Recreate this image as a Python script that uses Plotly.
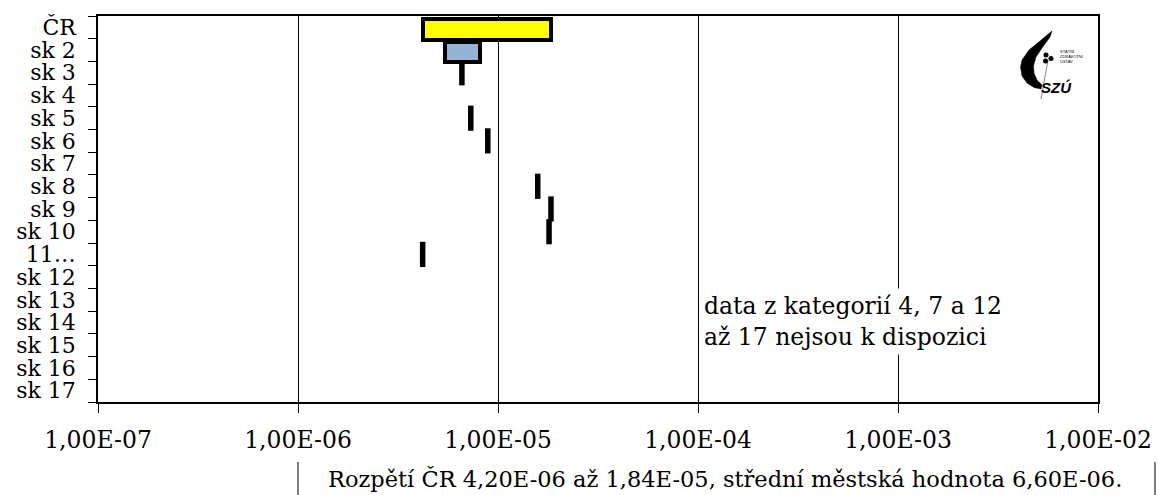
import plotly.graph_objects as go

# ---- data ----
categories = ["ČR", "sk 2", "sk 3", "sk 4", "sk 5", "sk 6", "sk 7", "sk 8", "sk 9",
              "sk 10", "11…", "sk 12", "sk 13", "sk 14", "sk 15", "sk 16", "sk 17"]
range_cats = ["ČR", "sk 2"]
range_min = [4.20e-6, 5.42e-6]
range_max = [1.84e-5, 8.15e-6]
range_colors = ["#FFFF00", "#95B3D7"]
single_cats = ["sk 3", "sk 5", "sk 6", "sk 8", "sk 9", "sk 10", "11…"]
single_vals = [6.60e-6, 7.31e-6, 8.89e-6, 1.58e-5, 1.84e-5, 1.80e-5, 4.20e-6]
x_tickvals = [1e-7, 1e-6, 1e-5, 1e-4, 1e-3, 1e-2]
x_ticktext = ["1,00E-07", "1,00E-06", "1,00E-05", "1,00E-04", "1,00E-03", "1,00E-02"]
note_text = "data z kategorií 4, 7 a 12<br>až 17 nejsou k dispozici"
footer_text = "Rozpětí ČR 4,20E-06 až 1,84E-05, střední městská hodnota 6,60E-06."

FONT = "DejaVu Serif, serif"
W, H = 1158, 495
L, R, T, B = 98, 60, 16, 93
PW, PH = W - L - R, H - T - B


def px(x):
    return (x - L) / PW


def py(y):
    return (H - B - y) / PH


fig = go.Figure()

fig.add_trace(go.Bar(
    y=range_cats,
    x=[mx - mn for mn, mx in zip(range_min, range_max)],
    base=range_min,
    orientation="h",
    width=0.9,
    offset=-0.36,
    marker=dict(color=range_colors, line=dict(color="black", width=4)),
    showlegend=False,
    hoverinfo="skip",
))

fig.add_trace(go.Scatter(
    y=single_cats,
    x=single_vals,
    mode="markers",
    marker=dict(symbol="line-ns", size=18, color="black",
                line=dict(color="black", width=5.5)),
    showlegend=False,
    hoverinfo="skip",
))

fig.update_xaxes(
    type="log", range=[-7, -2],
    tickvals=x_tickvals, ticktext=x_ticktext,
    showgrid=True, gridcolor="black", gridwidth=1,
    ticks="outside", ticklen=9, tickcolor="black", tickwidth=1,
    showline=True, linecolor="black", linewidth=1.5, mirror=True,
    tickfont=dict(family=FONT, size=23.5, color="black"),
    ticklabelstandoff=7,
    zeroline=False,
    automargin=False,
)
fig.update_yaxes(
    type="category", categoryorder="array", categoryarray=categories,
    range=[len(categories) - 0.5, -0.5],
    tickmode="array", tickvals=categories,
    ticks="outside", ticklen=8, tickcolor="black", tickwidth=1,
    tickson="boundaries",
    showgrid=False,
    showline=True, linecolor="black", linewidth=1.5, mirror=True,
    tickfont=dict(family=FONT, size=22, color="black"),
    ticklabelstandoff=16,
    automargin=False,
)

annotations = [
    dict(xref="paper", yref="paper", x=px(700), y=py(288), xanchor="left", yanchor="top",
         text=note_text, showarrow=False, align="left", bgcolor="white", borderpad=3,
         font=dict(family=FONT, size=23.5, color="black")),
    dict(xref="paper", yref="paper", x=px(326), y=py(479), xanchor="left", yanchor="middle",
         text=footer_text, showarrow=False, align="left",
         font=dict(family=FONT, size=22.5, color="black")),
    dict(xref="paper", yref="paper", x=px(1056), y=py(87), xanchor="center", yanchor="middle",
         text="<b><i>SZÚ</i></b>", showarrow=False,
         font=dict(family="Liberation Sans", size=15, color="black")),
    dict(xref="paper", yref="paper", x=px(1058), y=py(56), xanchor="left", yanchor="middle",
         text="STÁTNÍ<br>ZDRAVOTNÍ<br>ÚSTAV", showarrow=False, align="left",
         font=dict(family="Liberation Sans", size=4, color="black")),
]

flame_pts = [(1052, 31), (1040, 41), (1029, 50), (1022, 60), (1020.5, 67),
             (1022, 76), (1027, 83), (1034, 87.5), (1041, 89), (1042, 85), (1037, 80),
             (1034, 73), (1033.5, 66), (1036, 57), (1042, 48), (1050, 37)]
flame_path = "M " + " L ".join(f"{px(x):.5f},{py(y):.5f}" for x, y in flame_pts) + " Z"

shapes = [
    dict(type="line", xref="paper", yref="paper", x0=px(298), x1=px(298), y0=py(462), y1=py(495),
         line=dict(color="black", width=1)),
    dict(type="line", xref="paper", yref="paper", x0=px(1155), x1=px(1155), y0=py(462), y1=py(495),
         line=dict(color="black", width=1)),
    dict(type="path", xref="paper", yref="paper", path=flame_path,
         fillcolor="black", line=dict(color="black", width=0.5)),
    dict(type="line", xref="paper", yref="paper", x0=px(1048), x1=px(1041), y0=py(60), y1=py(99),
         line=dict(color="#888888", width=1)),
]
for cx, cy in [(1046, 55), (1051, 58.5), (1045.5, 61)]:
    shapes.append(dict(type="circle", xref="paper", yref="paper",
                       x0=px(cx - 2.5), x1=px(cx + 2.5), y0=py(cy + 2.5), y1=py(cy - 2.5),
                       fillcolor="black", line=dict(width=0)))

fig.update_layout(
    width=W, height=H,
    margin=dict(l=L, r=R, t=T, b=B, autoexpand=False),
    paper_bgcolor="white", plot_bgcolor="white",
    bargap=0,
    annotations=annotations,
    shapes=shapes,
    font=dict(family=FONT, color="black"),
    hovermode=False,
)

fig.write_html("out.html", config={"displayModeBar": False},
               post_script="document.body.style.margin='0';document.body.style.overflow='hidden';")
